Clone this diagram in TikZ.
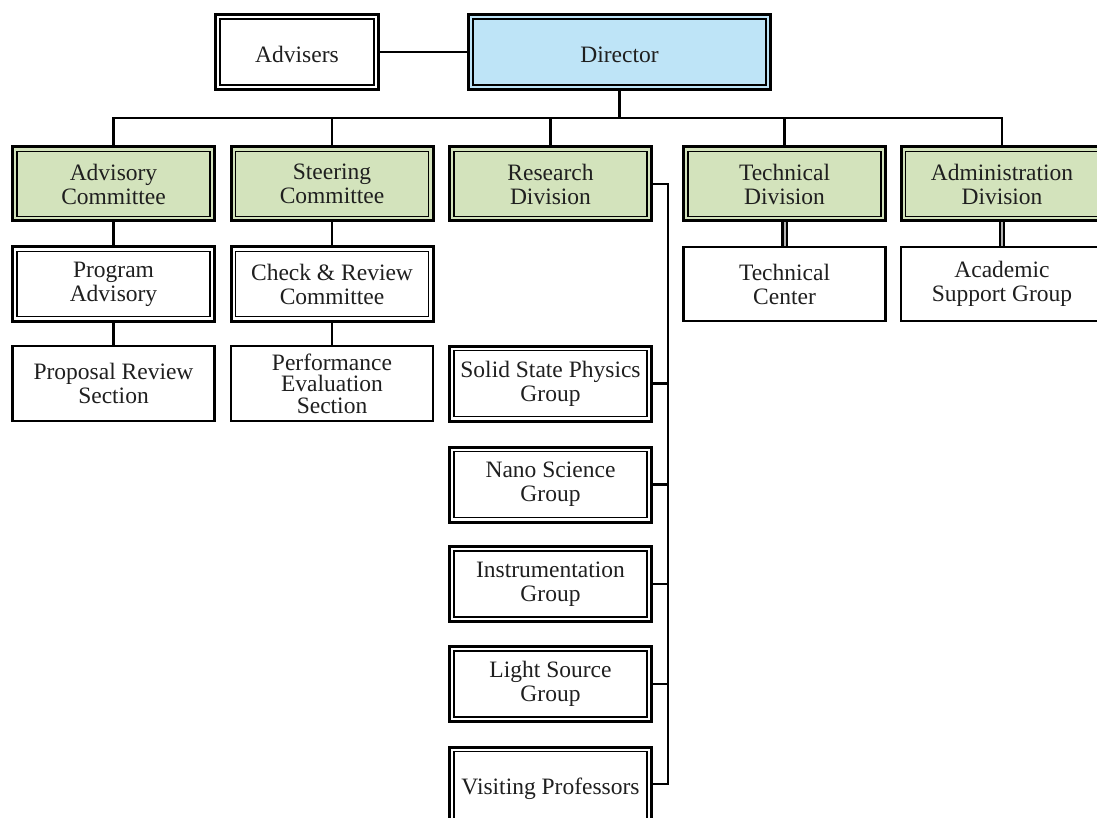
\documentclass[tikz,border=0pt]{standalone}
\usepackage{fontspec}
\setmainfont{Liberation Serif}
\definecolor{dirblue}{RGB}{190,228,247}
\definecolor{divgreen}{RGB}{211,227,188}
\tikzset{
  x=1pt, y=-1pt,
  box/.style={draw, line width=2.2pt, align=center, inner sep=0pt,
    font=\fontsize{23.5}{24}\selectfont, text=black!88,
    execute at begin node={\rule{0pt}{22pt}}},
  dbl/.style={box, line width=3pt,
    path picture={\draw[line width=1.4pt]
      ([shift={(4.4pt,4.4pt)}]path picture bounding box.south west) rectangle
      ([shift={(-4.4pt,-4.4pt)}]path picture bounding box.north east);}},
  wide/.style={minimum width=202pt, minimum height=74pt},
  conn/.style={line width=2.6pt},
  dconn/.style={line width=2.2pt, double=gray!60, double distance=2pt},
}
\begin{document}
\begin{tikzpicture}
\useasboundingbox[fill=white] (0,0) rectangle (1097,818);
% top
\node[dbl, minimum width=163pt, minimum height=75pt] (adv) at (297,52) {Advisers};
\node[dbl, fill=dirblue, minimum width=302pt, minimum height=75pt] (dir) at (619.5,52) {Director};
% level 2
\node[dbl, wide, fill=divgreen] (ac) at (113.5,184) {Advisory\\Committee};
\node[dbl, wide, fill=divgreen] (sc) at (332,184) {Steering\\Committee};
\node[dbl, wide, fill=divgreen] (rd) at (550.5,184) {Research\\Division};
\node[dbl, wide, fill=divgreen] (td) at (784.5,184) {Technical\\Division};
\node[dbl, wide, fill=divgreen] (ad) at (1002,184) {Administration\\Division};
% level 3
\node[dbl, wide] (pa) at (113.5,284) {Program\\Advisory};
\node[dbl, wide] (cr) at (332,284) {Check \& Review\\Committee};
\node[box, wide] (tc) at (784.5,284) {Technical\\Center};
\node[box, wide] (as) at (1002,284) {Academic\\Support Group};
% level 4
\node[box, wide, minimum height=75pt] (pr) at (113.5,383.5) {Proposal Review\\Section};
\node[box, wide, minimum height=75pt, font=\fontsize{23.5}{21.5}\selectfont] (pe) at (332,383.5) {Performance\\Evaluation\\Section};
% research groups
\node[dbl, wide, minimum height=75pt] (ss) at (550.5,383.5) {Solid State Physics\\Group};
\node[dbl, wide, minimum height=75pt] (ns) at (550.5,484.5) {Nano Science\\Group};
\node[dbl, wide, minimum height=75pt] (ig) at (550.5,584) {Instrumentation\\Group};
\node[dbl, wide, minimum height=75pt] (ls) at (550.5,684) {Light Source\\Group};
\node[dbl, wide, minimum height=78pt] (vp) at (550.5,786) {Visiting Professors};
% connectors
\coordinate (bus) at (0,118);
\coordinate (rbus) at (668,0);
\draw[conn] (adv.east) -- (dir.west);
\draw[conn] (dir.south) -- (dir.south |- bus);
\draw[conn] (ac.north) -- (ac.north |- bus) -- (ad.north |- bus) -- (ad.north);
\draw[conn] (sc.north) -- (sc.north |- bus);
\draw[conn] (rd.north) -- (rd.north |- bus);
\draw[conn] (td.north) -- (td.north |- bus);
\draw[conn] (ac.south) -- (pa.north);
\draw[conn] (pa.south) -- (pr.north);
\draw[conn] (sc.south) -- (cr.north);
\draw[conn] (cr.south) -- (pe.north);
\draw[dconn] (td.south) -- (tc.north);
\draw[dconn] (ad.south) -- (as.north);
\draw[conn] (rd.east) -- (rd.east -| rbus) -- ([yshift=2pt]vp.east -| rbus) -- ([yshift=2pt]vp.east);
\foreach \g in {ss,ns,ig,ls} \draw[conn] (\g.east) -- (\g.east -| rbus);
\end{tikzpicture}
\end{document}
